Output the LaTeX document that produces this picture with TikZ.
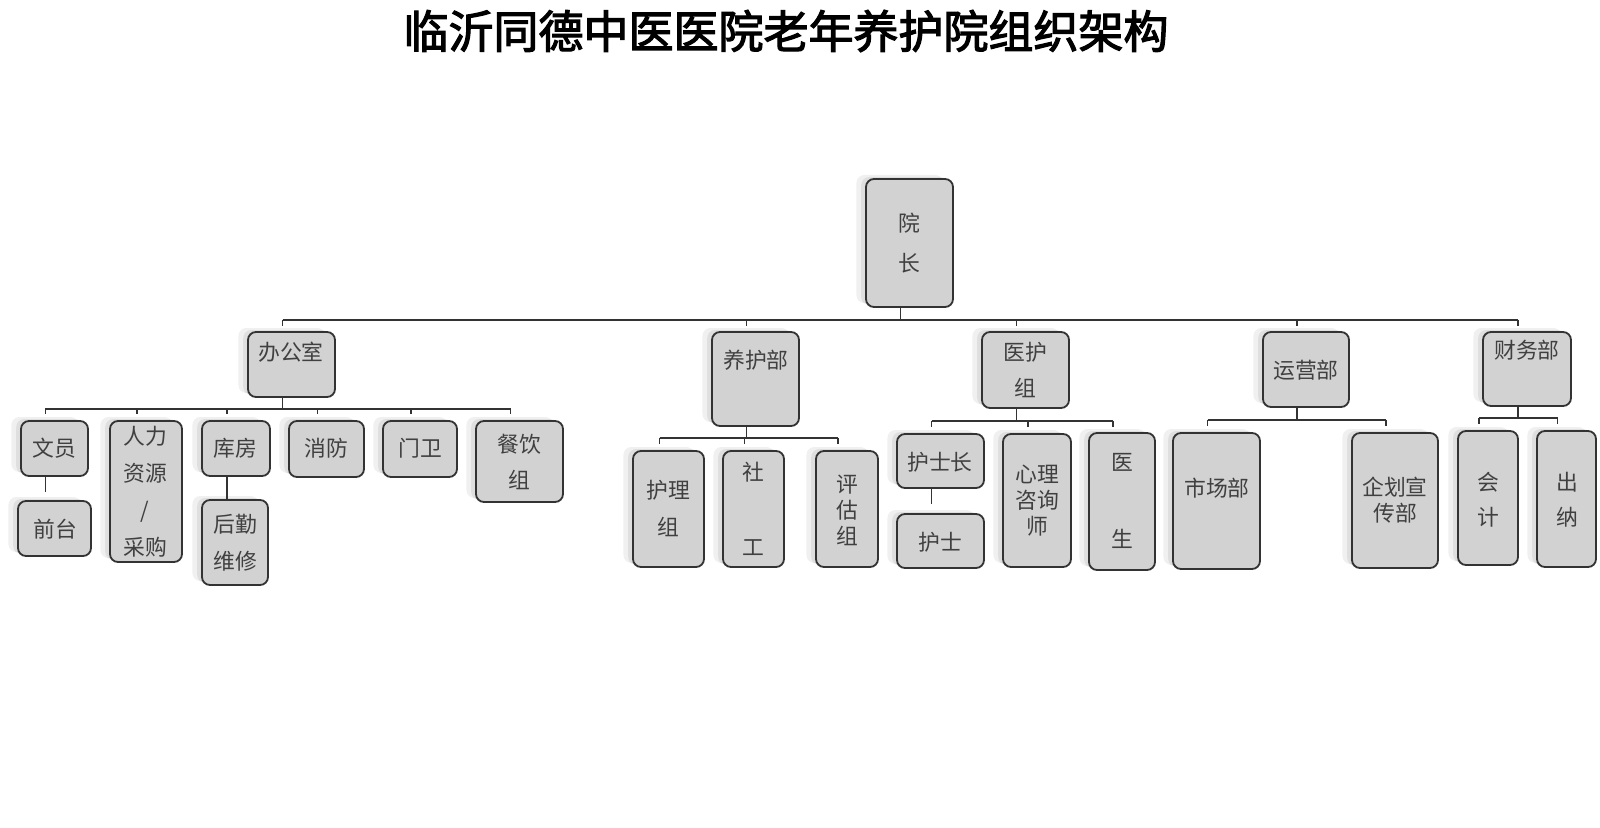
\documentclass[tikz,border=0pt]{standalone}
\usepackage{fontspec}
\setmainfont{Noto Sans CJK SC}
\newfontfamily\titlefont[FakeBold=2.6]{Noto Sans CJK SC}
\usetikzlibrary{fit}
\usetikzlibrary{shadows}

\tikzset{
  box/.style={draw=black!80, line width=1.3pt, fill=gray!35, rounded corners=0.2cm, inner sep=0pt,
    drop shadow={shadow xshift=-0.24cm, shadow yshift=0.1cm, fill=black, opacity=0.06},
    drop shadow={shadow xshift=-0.12cm, shadow yshift=0.05cm, fill=black, opacity=0.07}},
  txt/.style={font=\fontsize{15.5}{18.5}\selectfont, text=black!75, align=center, inner sep=0pt},
  conn/.style={draw=black!80, line width=1.2pt},
  heading/.style={font=\titlefont\fontsize{32}{36}\selectfont, text=black}
}

\begin{document}
\begin{tikzpicture}[x=0.025cm,y=-0.025cm]
\useasboundingbox (0,0) rectangle (1600,828);

\node[heading] (ttl) at (786,31) {临沂同德中医医院老年养护院组织架构};

% boxes
\node[box, fit={(866,179) (953,307)}] (yz) {};
\node[box, fit={(248,332) (335,397)}] (bgs) {};
\node[box, fit={(712,332) (799,426)}] (yhb) {};
\node[box, fit={(982,332) (1069,408)}] (yhz) {};
\node[box, fit={(1263,332) (1349,407)}] (yyb) {};
\node[box, fit={(1483,332) (1571,406)}] (cw) {};
\node[box, fit={(21,421) (88,476)}] (wy) {};
\node[box, fit={(18,501) (91,556)}] (qt) {};
\node[box, fit={(110,421) (182,562)}] (rl) {};
\node[box, fit={(202,421) (270,476)}] (kf) {};
\node[box, fit={(202,500) (268,585)}] (hq) {};
\node[box, fit={(289,421) (364,477)}] (xf) {};
\node[box, fit={(383,421) (457,477)}] (mw) {};
\node[box, fit={(476,421) (563,502)}] (cy) {};
\node[box, fit={(633,451) (704,567)}] (hl) {};
\node[box, fit={(723,451) (784,567)}] (sg) {};
\node[box, fit={(816,451) (878,567)}] (pg) {};
\node[box, fit={(897,434) (984,488)}] (hsz) {};
\node[box, fit={(897,514) (984,568)}] (hs) {};
\node[box, fit={(1003,434) (1071,567)}] (xl) {};
\node[box, fit={(1089,433) (1155,570)}] (ys) {};
\node[box, fit={(1173,433) (1260,569)}] (sc) {};
\node[box, fit={(1352,433) (1438,568)}] (qh) {};
\node[box, fit={(1458,431) (1518,565)}] (kj) {};
\node[box, fit={(1537,431) (1596,567)}] (cn) {};

% texts
\node[txt] (yz-t) at (909,243) {院\\[0.35cm]长};
\node[txt] (bgs-t) at (291,352) {办公室};
\node[txt] (yhb-t) at (756,360) {养护部};
\node[txt] (yhz-t) at (1025,370) {医护\\[0.25cm]组};
\node[txt] (yyb-t) at (1306,370) {运营部};
\node[txt] (cw-t) at (1527,350) {财务部};
\node[txt] (wy-t) at (54,448) {文员};
\node[txt] (qt-t) at (55,529) {前台};
\node[txt] (rl-t) at (145,492) {人力\\[0.275cm]资源\\[0.275cm]/\\[0.275cm]采购};
\node[txt] (kf-t) at (235,448) {库房};
\node[txt] (hq-t) at (235,543) {后勤\\[0.275cm]维修};
\node[txt] (xf-t) at (326,448) {消防};
\node[txt] (mw-t) at (420,448) {门卫};
\node[txt] (cy-t) at (519,462) {餐饮\\[0.25cm]组};
\node[txt] (hl-t) at (668,508) {护理\\[0.275cm]组};
\node[txt] (sg-t) at (753,509) {社\\[1.225cm]工};
\node[txt] (pg-t) at (847,510) {评\\估\\组};
\node[txt] (hsz-t) at (940,462) {护士长};
\node[txt] (hs-t) at (940,542) {护士};
\node[txt] (xl-t) at (1037,501) {心理\\咨询\\师};
\node[txt] (ys-t) at (1122,501) {医\\[1.275cm]生};
\node[txt] (sc-t) at (1217,488) {市场部};
\node[txt] (qh-t) at (1395,500) {企划宣\\传部};
\node[txt] (kj-t) at (1488,500) {会\\[0.225cm]计};
\node[txt] (cn-t) at (1567,500) {出\\[0.225cm]纳};

% top level
\draw[conn] ([xshift=-0.225cm]yz.south) -- ++(0,12) coordinate (b0);
\draw[conn] ([xshift=-0.225cm]bgs.north |- b0) -- ([xshift=-0.225cm]cw.north |- b0);
\draw[conn] ([xshift=-0.225cm]bgs.north |- b0) -- ++(0,6);
\draw[conn] ([xshift=-0.225cm]yhb.north |- b0) -- ++(0,6);
\draw[conn] ([xshift=-0.225cm]yhz.north |- b0) -- ++(0,6);
\draw[conn] ([xshift=-0.225cm]yyb.north |- b0) -- ++(0,6);
\draw[conn] ([xshift=-0.225cm]cw.north |- b0) -- ++(0,6);

% office
\draw[conn] ([xshift=-0.225cm]bgs.south) -- ++(0,11) coordinate (b1);
\draw[conn] ([xshift=-0.225cm]wy.north |- b1) -- ([xshift=-0.225cm]cy.north |- b1);
\draw[conn] ([xshift=-0.225cm]wy.north |- b1) -- ++(0,5);
\draw[conn] ([xshift=-0.225cm]rl.north |- b1) -- ++(0,5);
\draw[conn] ([xshift=-0.225cm]kf.north |- b1) -- ++(0,5);
\draw[conn] ([xshift=-0.225cm]xf.north |- b1) -- ++(0,5);
\draw[conn] ([xshift=-0.225cm]mw.north |- b1) -- ++(0,5);
\draw[conn] ([xshift=-0.225cm]cy.north |- b1) -- ++(0,5);
\draw[conn] ([xshift=-0.225cm]wy.south) -- ([xshift=-0.225cm,yshift=0.2cm]qt.north);
\draw[conn] ([xshift=-0.225cm]kf.south) -- ([xshift=-0.225cm]kf.south |- hq.north);

% care
\draw[conn] ([xshift=-0.225cm]yhb.south) -- ++(0,11) coordinate (b2);
\draw[conn] ([xshift=-0.225cm]hl.north |- b2) -- ([xshift=-0.225cm]pg.north |- b2);
\draw[conn] ([xshift=-0.225cm]hl.north |- b2) -- ++(0,6);
\draw[conn] ([xshift=-0.225cm]sg.north |- b2) -- ++(0,6);
\draw[conn] ([xshift=-0.225cm]pg.north |- b2) -- ++(0,6);

% medical
\draw[conn] ([xshift=-0.225cm]yhz.south) -- ++(0,12) coordinate (b3);
\draw[conn] ([xshift=-0.225cm]hsz.north |- b3) -- ([xshift=-0.225cm]ys.north |- b3);
\draw[conn] ([xshift=-0.225cm]hsz.north |- b3) -- ++(0,6);
\draw[conn] ([xshift=-0.225cm]xl.north |- b3) -- ++(0,6);
\draw[conn] ([xshift=-0.225cm]ys.north |- b3) -- ++(0,6);
\draw[conn] ([xshift=-0.225cm]hsz.south) -- ([xshift=-0.225cm,yshift=0.225cm]hs.north);

% operation
\draw[conn] ([xshift=-0.225cm]yyb.south) -- ++(0,12) coordinate (b4);
\draw[conn] ([xshift=-0.225cm]sc.north |- b4) -- ([xshift=-0.225cm]qh.north |- b4);
\draw[conn] ([xshift=-0.225cm]sc.north |- b4) -- ++(0,6);
\draw[conn] ([xshift=-0.225cm]qh.north |- b4) -- ++(0,6);

% finance
\draw[conn] ([xshift=-0.225cm]cw.south) -- ++(0,11) coordinate (b5);
\draw[conn] ([xshift=-0.225cm]kj.north |- b5) -- ([xshift=-0.225cm]cn.north |- b5);
\draw[conn] ([xshift=-0.225cm]kj.north |- b5) -- ++(0,6);
\draw[conn] ([xshift=-0.225cm]cn.north |- b5) -- ++(0,6);

\end{tikzpicture}
\end{document}
